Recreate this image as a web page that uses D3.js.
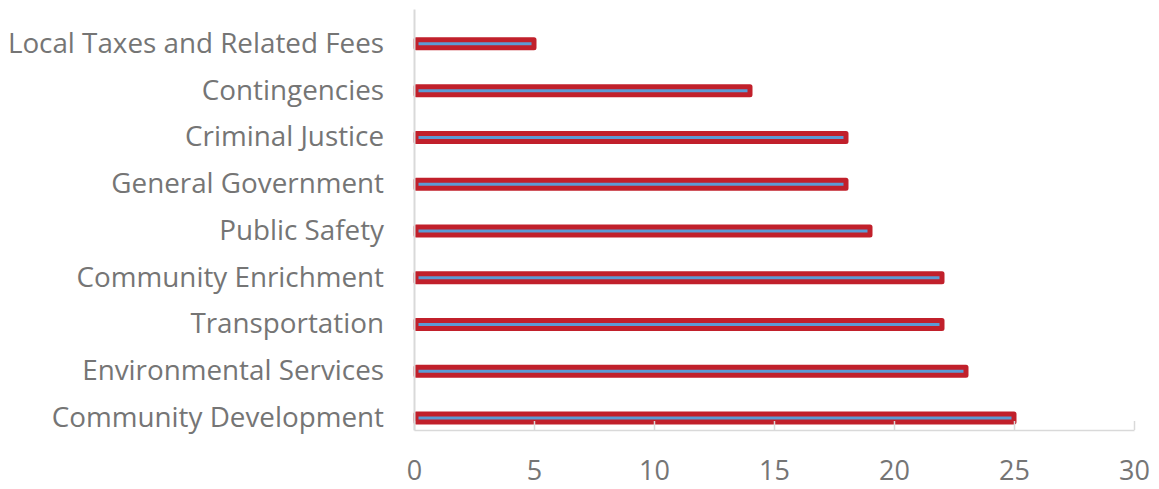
<!DOCTYPE html>
<html>
<head>
<meta charset="utf-8">
<script src="https://cdn.jsdelivr.net/npm/d3@7"></script>
<style>
  body { margin: 0; background: #fff; }
  text { font-family: "Open Sans", "Noto Sans", sans-serif; fill: #757575; }
</style>
</head>
<body>
<div id="chart"></div>
<script>
// categories top to bottom
var categories = [
    "Local Taxes and Related Fees",
    "Contingencies",
    "Criminal Justice",
    "General Government",
    "Public Safety",
    "Community Enrichment",
    "Transportation",
    "Environmental Services",
    "Community Development"
];
var values = [5, 14, 18, 18, 19, 22, 22, 23, 25];
var xTicks = [0, 5, 10, 15, 20, 25, 30];

var width = 1159, height = 489;
var margin = { top: 9, right: 25, bottom: 59, left: 414 };

var svg = d3.select("#chart").append("svg")
    .attr("width", width)
    .attr("height", height);

var xScale = d3.scaleLinear()
    .domain([0, 30])
    .range([margin.left, width - margin.right]);

var yScale = d3.scaleBand()
    .domain(categories)
    .range([margin.top, height - margin.bottom]);

var data = categories.map(function (c, i) {
    return { name: c, value: values[i] };
});

// bar centre sits low inside each band (excel gap/overlap)
function barMid(d) {
    return yScale(d.name) + yScale.bandwidth() * 0.745;
}

var barH = 8;
svg.append("g").selectAll("rect")
    .data(data)
    .enter()
    .append("rect")
    .attr("x", xScale(0) + 2)
    .attr("y", function (d) { return barMid(d) - barH / 2; })
    .attr("width", function (d) { return xScale(d.value) - xScale(0) - 2; })
    .attr("height", barH)
    .attr("fill", "#5B9BD5")
    .attr("stroke", "#C1202B")
    .attr("stroke-width", 5)
    .attr("stroke-linejoin", "round");

// x axis with ticks pointing up
var xAxis = svg.append("g")
    .attr("transform", "translate(0," + (height - margin.bottom) + ")")
    .call(d3.axisBottom(xScale).tickValues(xTicks).tickSizeInner(-9).tickSizeOuter(0).tickPadding(31));
xAxis.select(".domain").attr("stroke", "#d9d9d9").attr("stroke-width", 1.5);
xAxis.selectAll(".tick line").attr("stroke", "#d9d9d9").attr("stroke-width", 1.5);
xAxis.selectAll(".tick text")
    .style("font-size", "27px")
    .attr("fill", "#757575");

// y axis
var yAxis = svg.append("g")
    .attr("transform", "translate(" + xScale(0) + ",0)")
    .call(d3.axisLeft(yScale).tickSize(0).tickPadding(30));
yAxis.select(".domain").attr("stroke", "#d9d9d9").attr("stroke-width", 2);
yAxis.selectAll(".tick")
    .attr("transform", function (d) { return "translate(0," + barMid({ name: d }) + ")"; });
yAxis.selectAll(".tick text")
    .style("font-size", "27.8px")
    .attr("fill", "#757575");
</script>
</body>
</html>
